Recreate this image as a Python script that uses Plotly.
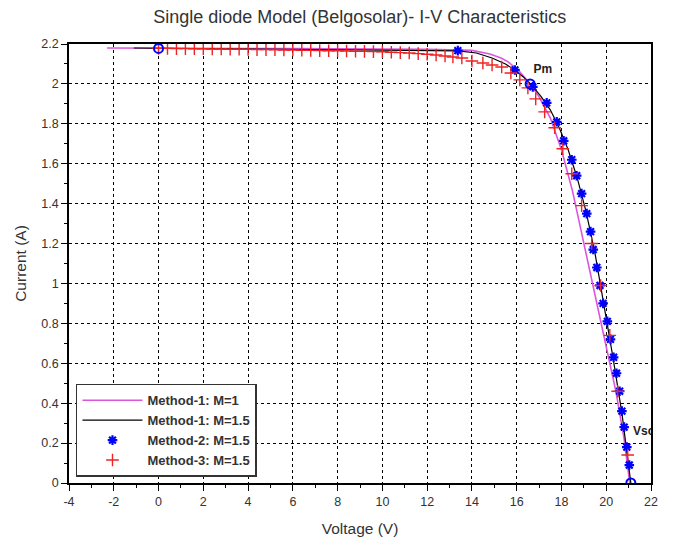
import plotly.graph_objects as go

# Method-1, M=1 (magenta line)
m1_v = [-2.3, 0, 6, 12, 13.4, 14.0, 14.8, 15.3, 15.6, 16.1, 16.6, 17.0, 17.5, 18.0, 18.5, 19.0, 19.5, 20.0, 20.43, 20.8, 21.05]
m1_i = [2.18, 2.18, 2.177, 2.173, 2.171, 2.168, 2.15, 2.13, 2.112, 2.065, 2.0, 1.935, 1.83, 1.67, 1.46, 1.2, 0.95, 0.69, 0.46, 0.22, 0.0]

# Method-1, M=1.5 (black line)
m15_v = [-1.1, 0, 4, 8, 12, 13.4, 14.2, 14.9, 15.5, 15.9, 16.3, 16.7, 17.1, 17.5, 17.9, 18.3, 18.7, 19.1, 19.5, 19.9, 20.3, 20.7, 21.1]
m15_i = [2.18, 2.179, 2.176, 2.172, 2.168, 2.166, 2.155, 2.13, 2.1, 2.07, 2.035, 1.99, 1.935, 1.87, 1.78, 1.67, 1.53, 1.36, 1.15, 0.9, 0.63, 0.35, 0.0]

# Method-2, M=1.5 (blue stars)
m2_v = [13.37, 15.92, 16.72, 17.34, 17.79, 18.1, 18.46, 18.68, 18.9, 19.13, 19.3, 19.42, 19.58, 19.72, 19.86, 20.05, 20.19, 20.33, 20.46, 20.6, 20.7, 20.8, 20.92, 21.03]
m2_i = [2.167, 2.07, 1.985, 1.905, 1.81, 1.715, 1.62, 1.54, 1.45, 1.35, 1.26, 1.17, 1.08, 0.99, 0.90, 0.81, 0.72, 0.63, 0.55, 0.46, 0.36, 0.28, 0.18, 0.09]

# Method-3, M=1.5 (red pluses)
m3_v = [0.0, 0.4, 0.8, 1.2, 1.6, 2.0, 2.4, 2.8, 3.2, 3.6, 4.0, 4.4, 4.8, 5.2, 5.6, 6.0, 6.4, 6.8, 7.2, 7.6, 8.0,
        8.4, 8.8, 9.2, 9.6, 10.0, 10.4, 10.8, 11.2, 11.6, 12.0, 12.4, 12.8, 13.15, 13.55, 14.0, 14.49, 14.9, 15.33,
        15.74, 16.14, 16.5, 16.85, 17.25, 17.7, 18.06, 18.46, 18.9, 19.35, 19.75, 20.16, 20.51, 20.96]
m3_i = [2.178, 2.178, 2.177, 2.177, 2.176, 2.176, 2.175, 2.175, 2.174, 2.174, 2.173, 2.172, 2.172, 2.171, 2.170, 2.170, 2.169, 2.168, 2.167, 2.166, 2.166,
        2.165, 2.164, 2.163, 2.162, 2.161, 2.159, 2.157, 2.155, 2.152, 2.149, 2.145, 2.14, 2.135, 2.13, 2.115, 2.105, 2.095, 2.085,
        2.055, 2.02, 1.98, 1.925, 1.86, 1.78, 1.675, 1.55, 1.39, 1.20, 0.99, 0.74, 0.46, 0.14]

# Key points (Isc, Pm, Voc)
key_v = [0.0, 16.6, 21.1]
key_i = [2.178, 2.0, 0.0]

# Labels
lbl_text = ["Pm", "Vsc"]
lbl_v = [17.17, 21.2]
lbl_i = [2.07, 0.256]

# Tick labels
x_tickvals = [-4, -2, 0, 2, 4, 6, 8, 10, 12, 14, 16, 18, 20, 22]
x_ticktext = ["-4", "-2", "0", "2", "4", "6", "8", "10", "12", "14", "16", "18", "20", "22"]
y_tickvals = [0, 0.2, 0.4, 0.6, 0.8, 1.0, 1.2, 1.4, 1.6, 1.8, 2.0, 2.2]
y_ticktext = ["0", "0.2", "0.4", "0.6", "0.8", "1", "1.2", "1.4", "1.6", "1.8", "2", "2.2"]

FONT = "Liberation Sans, Arial, sans-serif"

fig = go.Figure()
fig.add_trace(go.Scatter(x=m1_v, y=m1_i, mode="lines", name="Method-1: M=1",
                         line=dict(color="#dd55dd", width=1.6)))
fig.add_trace(go.Scatter(x=m15_v, y=m15_i, mode="lines", name="Method-1: M=1.5",
                         line=dict(color="black", width=1.2)))
fig.add_trace(go.Scatter(x=m2_v, y=m2_i, mode="markers", name="Method-2: M=1.5",
                         marker=dict(symbol="asterisk-open", size=8, color="blue",
                                     line=dict(color="blue", width=2.2))))
fig.add_trace(go.Scatter(x=m3_v, y=m3_i, mode="markers", name="Method-3: M=1.5",
                         marker=dict(symbol="cross-thin-open", size=9, color="#ee2222",
                                     line=dict(color="#ee2222", width=1.4))))
fig.add_trace(go.Scatter(x=key_v, y=key_i, mode="markers", showlegend=False,
                         marker=dict(symbol="circle-open", size=9, color="blue",
                                     line=dict(color="blue", width=2)),
                         cliponaxis=True))
fig.add_trace(go.Scatter(x=lbl_v[:1], y=lbl_i[:1], mode="text", text=["<b>" + lbl_text[0] + "</b>"],
                         textposition="middle center", showlegend=False,
                         textfont=dict(family=FONT, size=12, color="#222"), cliponaxis=True))
fig.add_trace(go.Scatter(x=lbl_v[1:], y=lbl_i[1:], mode="text", text=["<b>" + lbl_text[1] + "</b>"],
                         textposition="middle right", showlegend=False,
                         textfont=dict(family=FONT, size=12, color="#222"), cliponaxis=True))

axis_common = dict(
    showline=True, linecolor="black", linewidth=1.5, mirror=True,
    ticks="outside", ticklen=6, tickwidth=1, tickcolor="black",
    showgrid=True, gridcolor="black", griddash="dot", gridwidth=1,
    zeroline=False, automargin=False,
    tickfont=dict(family=FONT, size=12.5, color="#333"),
)

fig.update_xaxes(range=[-4, 22], tickmode="array", tickvals=x_tickvals, ticktext=x_ticktext,
                 minor=dict(dtick=1, tick0=0, ticks="outside", ticklen=3, tickcolor="black", showgrid=False),
                 title=dict(text="Voltage (V)", font=dict(family=FONT, size=15.5, color="#333"), standoff=15),
                 **axis_common)
fig.update_yaxes(range=[0, 2.2], tickmode="array", tickvals=y_tickvals, ticktext=y_ticktext,
                 minor=dict(dtick=0.1, tick0=0, ticks="outside", ticklen=3, tickcolor="black", showgrid=False),
                 title=dict(text="Current (A)", font=dict(family=FONT, size=15.5, color="#333"), standoff=11),
                 **axis_common)

fig.update_layout(
    width=665, height=533,
    margin=dict(l=61, r=22, t=36, b=58),
    paper_bgcolor="white", plot_bgcolor="white",
    title=dict(text="Single diode Model (Belgosolar)- I-V Characteristics",
               x=0.529, xanchor="center", y=0.983, yanchor="middle", yref="container",
               font=dict(family=FONT, size=18, color="#333")),
    legend=dict(x=0.012, y=0.014, xanchor="left", yanchor="bottom",
                bgcolor="white", bordercolor="#333", borderwidth=1.5,
                font=dict(family=FONT, size=13, color="#333", weight="bold"),
                itemwidth=60, tracegroupgap=2),
    showlegend=True,
)

fig.write_html("out.html")
